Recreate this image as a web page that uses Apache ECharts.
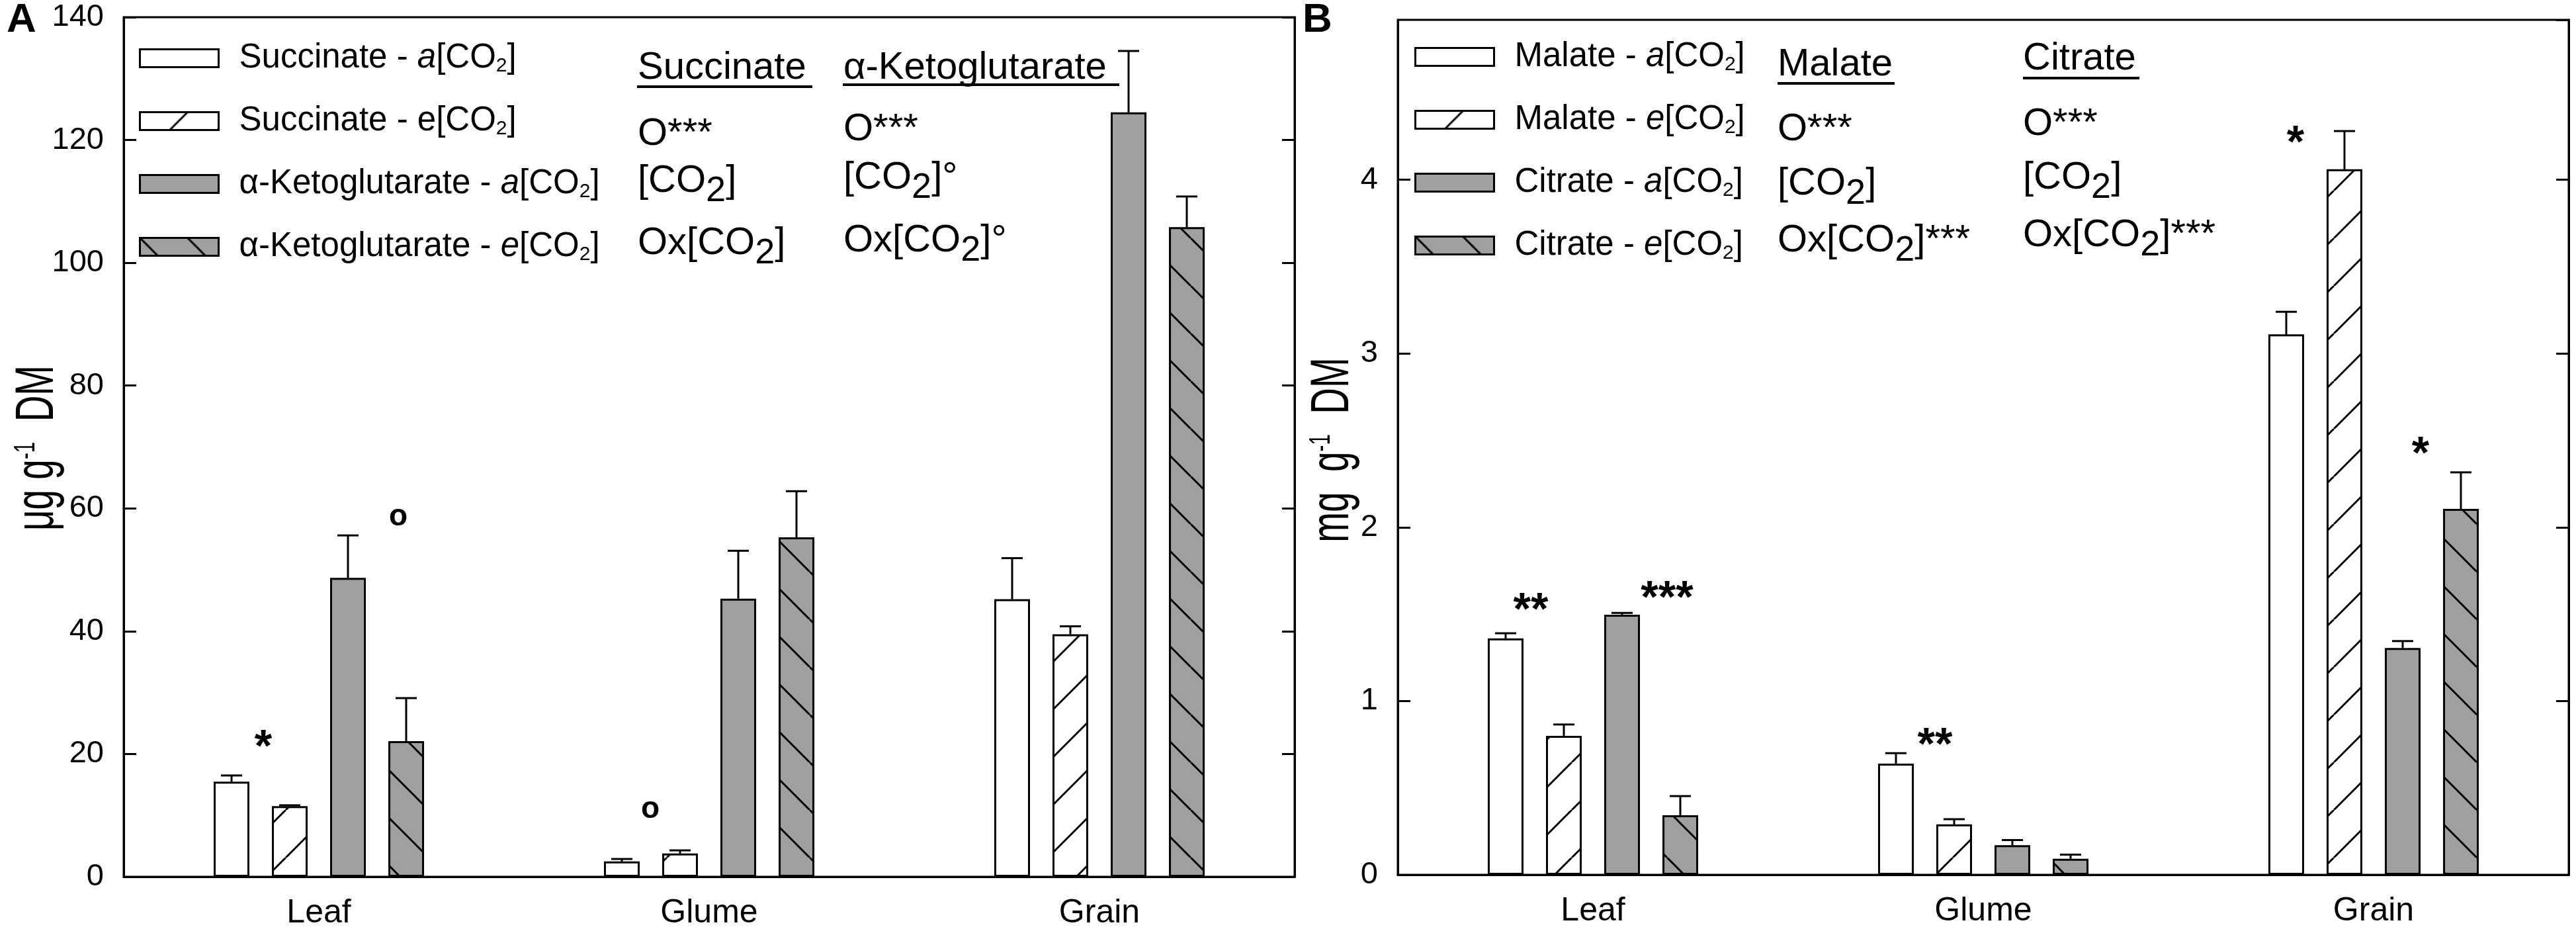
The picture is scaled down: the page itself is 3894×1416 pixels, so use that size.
<!DOCTYPE html>
<html>
<head>
<meta charset="utf-8">
<title>Organic acids in leaf, glume and grain</title>
<script src="https://cdn.jsdelivr.net/npm/echarts@6/dist/echarts.min.js"></script>
<style>
  html, body { margin: 0; padding: 0; background: #fff; }
  #chart { width: 3894px; height: 1416px; }
</style>
</head>
<body>
<div id="chart"></div>
<script>
var categories = ['Leaf', 'Glume', 'Grain']

// Panel A (µg g-1 DM): mean and upper error
var succinateAmb = [15.5, 2.5, 45.2]
var succinateAmbErr = [1.0, 0.4, 6.7]
var succinateElev = [11.5, 3.8, 39.5]
var succinateElevErr = [0.15, 0.5, 1.3]
var ketoAmb = [48.7, 45.3, 124.5]
var ketoAmbErr = [6.9, 7.8, 10.0]
var ketoElev = [22.1, 55.3, 105.8]
var ketoElevErr = [7.0, 7.5, 5.0]

// Panel B (mg g-1 DM)
var malateAmb = [1.36, 0.64, 3.11]
var malateAmbErr = [0.03, 0.06, 0.13]
var malateElev = [0.80, 0.29, 4.06]
var malateElevErr = [0.065, 0.03, 0.22]
var citrateAmb = [1.497, 0.17, 1.305]
var citrateAmbErr = [0.01, 0.03, 0.04]
var citrateElev = [0.343, 0.092, 2.106]
var citrateElevErr = [0.11, 0.024, 0.21]

var namesA = ['Succinate - a[CO2]', 'Succinate - e[CO2]', 'α-Ketoglutarate - a[CO2]', 'α-Ketoglutarate - e[CO2]']
var labelsA = ['Succinate - {i|a}[CO{s|2}]', 'Succinate - e[CO{s|2}]', 'α-Ketoglutarate - {i|a}[CO{s|2}]', 'α-Ketoglutarate - {i|e}[CO{s|2}]']
var namesB = ['Malate - a[CO2]', 'Malate - e[CO2]', 'Citrate - a[CO2]', 'Citrate - e[CO2]']
var labelsB = ['Malate - {i|a}[CO{s|2}]', 'Malate - {i|e}[CO{s|2}]', 'Citrate - {i|a}[CO{s|2}]', 'Citrate - {i|e}[CO{s|2}]']

var ticksA = { min: 0, max: 140, step: 20 }
var ticksB = { min: 0, max: 4.92, step: 1 }

var unitA = 'μg g{sup|-1}  DM'
var unitB = 'mg  g{sup|-1}  DM'

// ANOVA summary columns (heading + rows)
var statsA = [
  ['Succinate', 'O***', '[CO{sub|2}]', 'Ox[CO{sub|2}]'],
  ['α-Ketoglutarate', 'O***', '[CO{sub|2}]°', 'Ox[CO{sub|2}]°']
]
var statsB = [
  ['Malate', 'O***', '[CO{sub|2}]', 'Ox[CO{sub|2}]***'],
  ['Citrate', 'O***', '[CO{sub|2}]', 'Ox[CO{sub|2}]***']
]

// significance marks: bar slot, category index, height, text
var notesA = [
  { slot: 1, cat: 0, y: 22.5, text: '*' },
  { slot: 3, cat: 0, y: 58.3, text: 'o' },
  { slot: 1, cat: 1, y: 10.6, text: 'o' }
]
var notesB = [
  { slot: 1, cat: 0, y: 1.57, text: '**' },
  { slot: 3, cat: 0, y: 1.64, text: '***' },
  { slot: 1, cat: 1, y: 0.795, text: '**' },
  { slot: 1, cat: 2, y: 4.26, text: '*' },
  { slot: 3, cat: 2, y: 2.47, text: '*' }
]

var FONT = '"Liberation Sans", Arial, sans-serif'
var GRAY = '#a0a0a0'
var BAR_W = 54
var BAR_GAP = 34
var PITCH = BAR_W + BAR_GAP
var CAP = 16
var shiftsA = [-40, -12, -45]
var shiftsB = [-50, -20, -29, -74, -61]

function hatch(bg, dir) {
  var s = 72
  var c = document.createElement('canvas')
  c.width = s
  c.height = s
  var ctx = c.getContext('2d')
  ctx.fillStyle = bg
  ctx.fillRect(0, 0, s, s)
  ctx.strokeStyle = '#000'
  ctx.lineWidth = 3
  for (var k = -s; k <= s; k += s) {
    ctx.beginPath()
    if (dir === '/') {
      ctx.moveTo(k, s)
      ctx.lineTo(k + s, 0)
    } else {
      ctx.moveTo(k, 0)
      ctx.lineTo(k + s, s)
    }
    ctx.stroke()
  }
  return { image: c, repeat: 'repeat' }
}

var fills = ['#fff', hatch('#fff', '/'), GRAY, hatch(GRAY, '\\')]

function bars(name, vals, slot, g) {
  return {
    name: name,
    type: 'bar',
    xAxisIndex: g,
    yAxisIndex: g * 2,
    data: vals,
    barWidth: BAR_W,
    barGap: (BAR_GAP / BAR_W * 100).toFixed(1) + '%',
    itemStyle: { color: fills[slot], borderColor: '#000', borderWidth: 3 },
    z: 2
  }
}

function errorBars(vals, errs, slot, g) {
  return {
    type: 'custom',
    xAxisIndex: g,
    yAxisIndex: g * 2,
    z: 3,
    silent: true,
    data: vals.map(function (v, i) { return [i, v, errs[i]] }),
    renderItem: function (params, api) {
      var i = api.value(0), v = api.value(1), e = api.value(2)
      var p0 = api.coord([i, v])
      var p1 = api.coord([i, v + e])
      var x = p0[0] + (slot - 1.5) * PITCH
      var st = { stroke: '#000', lineWidth: 3 }
      return {
        type: 'group',
        children: [
          { type: 'line', shape: { x1: x, y1: p0[1], x2: x, y2: p1[1] }, style: st },
          { type: 'line', shape: { x1: x - CAP, y1: p1[1], x2: x + CAP, y2: p1[1] }, style: st }
        ]
      }
    }
  }
}

function marks(notes, shifts, g) {
  return {
    type: 'custom',
    xAxisIndex: g,
    yAxisIndex: g * 2,
    z: 4,
    silent: true,
    data: notes.map(function (n) { return [n.cat, n.y] }),
    renderItem: function (params, api) {
      var n = notes[params.dataIndex]
      var p = api.coord([api.value(0), api.value(1)])
      var circle = n.text === 'o'
      var size = circle ? 46 : 68
      return {
        type: 'text',
        x: p[0] + (n.slot - 1.5) * PITCH + shifts[params.dataIndex],
        y: p[1] + (circle ? -3 : 15),
        style: {
          text: n.text,
          fontSize: size,
          fontWeight: 'bold',
          fontFamily: FONT,
          fill: '#000',
          align: 'center',
          verticalAlign: 'middle'
        }
      }
    }
  }
}

function valueAxis(g, t, side) {
  return {
    gridIndex: g,
    type: 'value',
    position: side,
    min: t.min,
    max: t.max,
    interval: t.step,
    axisLine: { show: true, lineStyle: { color: '#000', width: 3 } },
    axisTick: { show: true, inside: true, length: 19, lineStyle: { color: '#000', width: 3 } },
    axisLabel: {
      show: side === 'left',
      showMaxLabel: t.max % t.step === 0,
      fontSize: 47,
      fontFamily: FONT,
      color: '#000',
      margin: 30
    },
    splitLine: { show: false }
  }
}

function catAxis(g) {
  return {
    gridIndex: g,
    type: 'category',
    data: categories,
    axisLine: { lineStyle: { color: '#000', width: 3 } },
    axisTick: { show: false },
    axisLabel: { fontSize: 50, fontFamily: FONT, color: '#000', margin: 30 }
  }
}

var legendRich = {
  i: { fontSize: 51, fontStyle: 'italic', fontFamily: FONT, color: '#000', lineHeight: 60 },
  s: { fontSize: 30, fontFamily: FONT, color: '#000', lineHeight: 60, padding: [24, 0, 0, 0] }
}

function legend(names, labels, left, top) {
  return {
    data: names,
    left: left,
    top: top,
    orient: 'vertical',
    padding: 0,
    icon: 'rect',
    itemWidth: 119,
    itemHeight: 27,
    itemGap: 35,
    selectedMode: false,
    itemStyle: { borderColor: '#000', borderWidth: 3 },
    formatter: function (n) { return labels[names.indexOf(n)] },
    textStyle: {
      fontSize: 51,
      fontFamily: FONT,
      color: '#000',
      lineHeight: 60,
      padding: [0, 0, 0, 26],
      rich: legendRich
    }
  }
}

var statRich = { sub: { fontSize: 54, fontFamily: FONT, fill: '#000', padding: [30, 0, 0, 0] } }

function statText(str, x, y) {
  return {
    type: 'text',
    x: x,
    y: y,
    style: { text: str, fontSize: 58, fontFamily: FONT, fill: '#000', verticalAlign: 'middle', rich: statRich }
  }
}

function underline(x1, x2, y) {
  return { type: 'line', shape: { x1: x1, y1: y, x2: x2, y2: y }, style: { stroke: '#000', lineWidth: 4 } }
}

// the unit labels are drawn tall and narrow, as in the original figure
function unitLabel(str, x, y) {
  return {
    type: 'text',
    x: x,
    y: y,
    rotation: Math.PI / 2,
    scaleX: 0.67,
    style: {
      text: str,
      fontSize: 82,
      fontFamily: FONT,
      fill: '#000',
      align: 'center',
      verticalAlign: 'bottom',
      rich: { sup: { fontSize: 44, fontFamily: FONT, fill: '#000', padding: [0, 0, 34, 0] } }
    }
  }
}

var graphics = [
  { type: 'text', x: 10, y: 0, style: { text: 'A', fontSize: 62, fontWeight: 'bold', fontFamily: FONT, fill: '#000', verticalAlign: 'top' } },
  { type: 'text', x: 1969, y: 0, style: { text: 'B', fontSize: 62, fontWeight: 'bold', fontFamily: FONT, fill: '#000', verticalAlign: 'top' } },
  unitLabel(unitA, 98, 677),
  unitLabel(unitB, 2056, 680),
  underline(963, 1228, 131),
  underline(1274, 1692, 128),
  underline(2687, 2864, 126),
  underline(3058, 3234, 118)
]
var colA = [{ x: 964, ys: [103, 203, 274, 368] }, { x: 1275, ys: [103, 196, 269, 364] }]
var colB = [{ x: 2687, ys: [98, 196, 278, 364] }, { x: 3058, ys: [89, 188, 269, 356] }]
;[[statsA, colA], [statsB, colB]].forEach(function (pair) {
  pair[0].forEach(function (col, c) {
    col.forEach(function (str, r) {
      graphics.push(statText(str, pair[1][c].x, pair[1][c].ys[r]))
    })
  })
})

var chart = echarts.init(document.getElementById('chart'))
chart.setOption({
  animation: false,
  backgroundColor: '#fff',
  grid: [
    { left: 187, top: 26, width: 1770, height: 1299, show: true, borderColor: '#000', borderWidth: 3 },
    { left: 2113, top: 30, width: 1770, height: 1292, show: true, borderColor: '#000', borderWidth: 3 }
  ],
  xAxis: [catAxis(0), catAxis(1)],
  yAxis: [
    valueAxis(0, ticksA, 'left'),
    valueAxis(0, ticksA, 'right'),
    valueAxis(1, ticksB, 'left'),
    valueAxis(1, ticksB, 'right')
  ],
  legend: [legend(namesA, labelsA, 210, 58), legend(namesB, labelsB, 2138, 56)],
  graphic: graphics,
  series: [
    bars(namesA[0], succinateAmb, 0, 0),
    bars(namesA[1], succinateElev, 1, 0),
    bars(namesA[2], ketoAmb, 2, 0),
    bars(namesA[3], ketoElev, 3, 0),
    errorBars(succinateAmb, succinateAmbErr, 0, 0),
    errorBars(succinateElev, succinateElevErr, 1, 0),
    errorBars(ketoAmb, ketoAmbErr, 2, 0),
    errorBars(ketoElev, ketoElevErr, 3, 0),
    marks(notesA, shiftsA, 0),
    bars(namesB[0], malateAmb, 0, 1),
    bars(namesB[1], malateElev, 1, 1),
    bars(namesB[2], citrateAmb, 2, 1),
    bars(namesB[3], citrateElev, 3, 1),
    errorBars(malateAmb, malateAmbErr, 0, 1),
    errorBars(malateElev, malateElevErr, 1, 1),
    errorBars(citrateAmb, citrateAmbErr, 2, 1),
    errorBars(citrateElev, citrateElevErr, 3, 1),
    marks(notesB, shiftsB, 1)
  ]
})
</script>
</body>
</html>
